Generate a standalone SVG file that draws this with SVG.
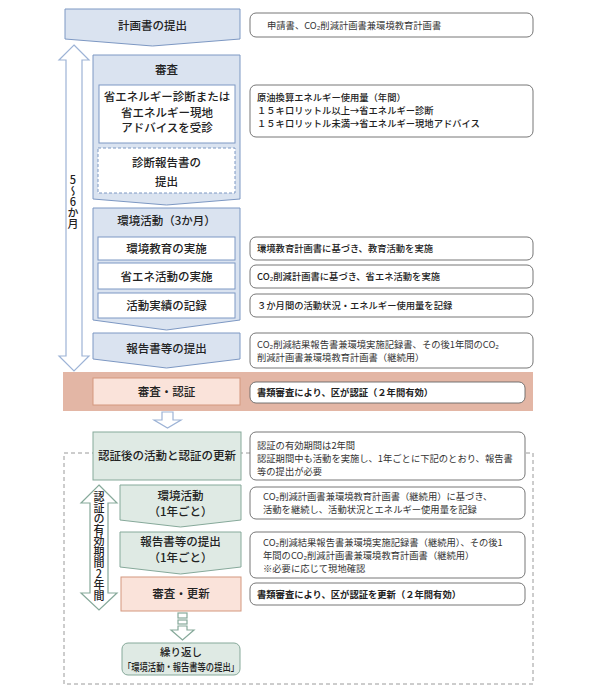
<svg xmlns="http://www.w3.org/2000/svg" width="596" height="700" viewBox="0 0 596 700">
<style>
text{font-family:"Noto Sans CJK JP","Liberation Sans",sans-serif;fill:#222}
.lb{font-size:11.5px;font-weight:500;text-anchor:middle}
.rt{font-size:9.3px;font-weight:400;fill:#333}
.rm{font-size:9.3px;font-weight:500}
.rb{font-size:9.3px;font-weight:700}
.blue{fill:#dae3f0;stroke:#7d98c3;stroke-width:1}
.wbox{fill:#fff;stroke:#7d98c3;stroke-width:1}
.dbox{fill:#fff;stroke:#7d98c3;stroke-width:1;stroke-dasharray:3,2}
.note{fill:#fff;stroke:#666;stroke-width:0.9}
.green{fill:#dfeae4;stroke:#86a99a;stroke-width:1}
.pink{fill:#fae3da;stroke:#d4977f;stroke-width:1}
.barrow{fill:#fff;stroke:#9db3d6;stroke-width:1.2}
.garrow{fill:#fff;stroke:#86a99a;stroke-width:1.2}
.vt{font-size:11px;font-weight:500;writing-mode:vertical-rl;text-orientation:upright}
</style>
<rect width="596" height="700" fill="#fff"/>

<!-- band -->
<rect id="band" x="63" y="372" width="470" height="39" fill="#e3b6a5"/>

<!-- dashed outline -->
<rect id="renewal-area" x="64" y="453" width="469" height="231" fill="none" stroke="#9a9a9a" stroke-width="1" stroke-dasharray="4,3"/>

<g id="connectors">
  <!-- 5-6 months double arrow -->
  <path class="barrow" d="M74,45 L89,60 L82,60 L82,356 L89,356 L74,371 L59,356 L66,356 L66,60 L59,60 Z"/>
  <!-- down arrow band -> green -->
  <path class="barrow" d="M162,412 L173,412 L173,420 L181,420 L167.5,428 L154,420 L162,420 Z"/>
  <!-- validity double arrow -->
  <path class="garrow" d="M99,485 L117,503 L108,503 L108,593 L117,593 L99,610 L81,593 L90,593 L90,503 L81,503 Z"/>
  <!-- arrow to repeat -->
  <g class="garrow">
    <rect x="178" y="613" width="9" height="5"/>
    <rect x="178" y="620" width="9" height="4"/>
    <path d="M178,626 L187,626 L187,630 L194,630 L182.5,640 L171,630 L178,630 Z"/>
  </g>
</g>

<g id="label-months">
  <text class="vt" x="73" y="174">5～6か月</text>
</g>

<g id="label-validity">
  <text class="vt" x="99" y="491">認証の有効期間2年間</text>
</g>

<g id="n-plan">
  <polygon class="blue" points="65,9 240,9 240,39 152.5,46 65,39"/>
  <text class="lb" x="152.5" y="29.5">計画書の提出</text>
</g>
<g id="note-plan">
  <rect class="note" x="250" y="13" width="283" height="24" rx="6"/>
  <text class="rt" x="267" y="28.5">申請書、CO₂削減計画書兼環境教育計画書</text>
</g>

<g id="n-review">
  <polygon class="blue" points="93,55 240,55 240,199 166.5,205 93,199"/>
  <text class="lb" x="166.5" y="74">審査</text>
</g>
<g id="n-diagnosis">
  <rect class="wbox" x="99" y="85" width="136" height="58"/>
  <text class="lb" x="167" y="101">省エネルギー診断または</text>
  <text class="lb" x="167" y="117">省エネルギー現地</text>
  <text class="lb" x="167" y="132">アドバイスを受診</text>
</g>
<g id="note-diagnosis">
  <rect class="note" x="250" y="85" width="283" height="52" rx="6"/>
  <text class="rm" x="257" y="100.5">原油換算エネルギー使用量（年間）</text>
  <text class="rm" x="257" y="113.5">１５キロリットル以上→省エネルギー診断</text>
  <text class="rm" x="257" y="126.5">１５キロリットル未満→省エネルギー現地アドバイス</text>
</g>
<g id="n-report-diag">
  <rect class="dbox" x="98" y="148" width="137" height="45"/>
  <text class="lb" x="166.5" y="167">診断報告書の</text>
  <text class="lb" x="166.5" y="186">提出</text>
</g>

<g id="n-activity">
  <polygon class="blue" points="93,208 240,208 240,320 166.5,330 93,320"/>
  <text class="lb" x="166.5" y="225">環境活動（3か月）</text>
</g>
<g id="n-edu">
  <rect class="wbox" x="98" y="237" width="137" height="23"/>
  <text class="lb" x="166.5" y="252.5">環境教育の実施</text>
</g>
<g id="note-edu">
  <rect class="note" x="250" y="237" width="283" height="23" rx="6"/>
  <text class="rm" x="257" y="252">環境教育計画書に基づき、教育活動を実施</text>
</g>
<g id="n-save">
  <rect class="wbox" x="98" y="263" width="137" height="26"/>
  <text class="lb" x="166.5" y="280.5">省エネ活動の実施</text>
</g>
<g id="note-save">
  <rect class="note" x="250" y="265" width="283" height="23" rx="6"/>
  <text class="rm" x="257" y="280">CO₂削減計画書に基づき、省エネ活動を実施</text>
</g>
<g id="n-record">
  <rect class="wbox" x="98" y="293" width="137" height="25"/>
  <text class="lb" x="166.5" y="310">活動実績の記録</text>
</g>
<g id="note-record">
  <rect class="note" x="250" y="294" width="283" height="23" rx="6"/>
  <text class="rm" x="257" y="309">３か月間の活動状況・エネルギー使用量を記録</text>
</g>

<g id="n-report">
  <polygon class="blue" points="93,333 240,333 240,359 166.5,368 93,359"/>
  <text class="lb" x="166.5" y="353">報告書等の提出</text>
</g>
<g id="note-report">
  <rect class="note" x="250" y="333" width="283" height="35" rx="6"/>
  <text class="rt" x="257" y="347.5">CO₂削減結果報告書兼環境実施記録書、その後1年間のCO₂</text>
  <text class="rt" x="257" y="360.5">削減計画書兼環境教育計画書（継続用）</text>
</g>

<g id="n-certify">
  <rect class="pink" x="93" y="378" width="147" height="27"/>
  <text class="lb" x="166.5" y="396">審査・認証</text>
</g>
<g id="note-certify">
  <rect class="note" x="250" y="382" width="275" height="21" rx="6"/>
  <text class="rb" x="257" y="396">書類審査により、区が認証（２年間有効）</text>
</g>

<g id="n-after">
  <rect class="green" x="93" y="432" width="148" height="48"/>
  <text class="lb" x="167" y="460">認証後の活動と認証の更新</text>
</g>
<g id="note-after">
  <rect class="note" x="250" y="432" width="275" height="48" rx="6"/>
  <text class="rt" x="257" y="448.5">認証の有効期間は2年間</text>
  <text class="rt" x="257" y="461.5">認証期間中も活動を実施し、1年ごとに下記のとおり、報告書</text>
  <text class="rt" x="257" y="474.5">等の提出が必要</text>
</g>

<g id="n-activity-year">
  <polygon class="green" points="120,485 241,485 241,520 180.5,527 120,520"/>
  <text class="lb" x="180.5" y="500">環境活動</text>
  <text class="lb" x="180.5" y="516">（1年ごと）</text>
</g>
<g id="note-activity-year">
  <rect class="note" x="250" y="487" width="275" height="32" rx="6"/>
  <text class="rt" x="263" y="499.5">CO₂削減計画書兼環境教育計画書（継続用）に基づき、</text>
  <text class="rt" x="263" y="512.5">活動を継続し、活動状況とエネルギー使用量を記録</text>
</g>

<g id="n-report-year">
  <polygon class="green" points="120,532 241,532 241,567 180.5,574 120,567"/>
  <text class="lb" x="180.5" y="546">報告書等の提出</text>
  <text class="lb" x="180.5" y="561.5">（1年ごと）</text>
</g>
<g id="note-report-year">
  <rect class="note" x="250" y="532" width="275" height="46" rx="6"/>
  <text class="rt" x="263" y="546">CO₂削減結果報告書兼環境実施記録書（継続用）、その後1</text>
  <text class="rt" x="263" y="559">年間のCO₂削減計画書兼環境教育計画書（継続用）</text>
  <text class="rt" x="263" y="572">※必要に応じて現地確認</text>
</g>

<g id="n-renew">
  <rect class="pink" x="121" y="577" width="120" height="34"/>
  <text class="lb" x="181" y="598">審査・更新</text>
</g>
<g id="note-renew">
  <rect class="note" x="250" y="583" width="275" height="22" rx="6"/>
  <text class="rb" x="257" y="597.5">書類審査により、区が認証を更新（２年間有効）</text>
</g>

<g id="n-repeat">
  <rect class="green" x="122" y="643" width="118" height="32" rx="6"/>
  <text class="lb" x="181" y="656" style="font-size:10.5px">繰り返し</text>
  <text class="lb" x="181" y="671" style="font-size:10.5px" textLength="116" lengthAdjust="spacingAndGlyphs">「環境活動・報告書等の提出」</text>
</g>
</svg>
